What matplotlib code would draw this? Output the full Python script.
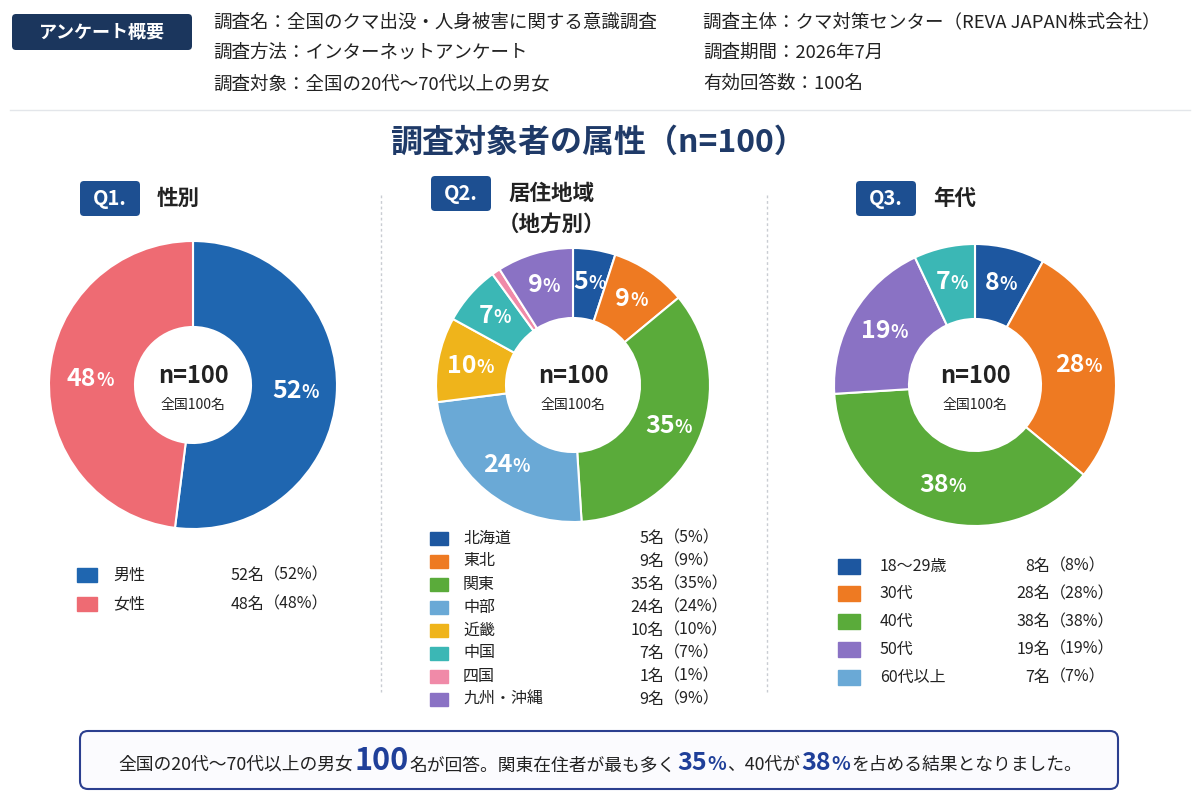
import matplotlib
matplotlib.use("Agg")
import matplotlib.pyplot as plt
import numpy as np
from matplotlib.patches import FancyBboxPatch, Rectangle
from matplotlib.offsetbox import TextArea, HPacker, AnnotationBbox

plt.rcParams["font.family"] = ["Noto Sans CJK JP", "DejaVu Sans"]

# ---- data ----
survey_left = [
    "調査名：全国のクマ出没・人身被害に関する意識調査",
    "調査方法：インターネットアンケート",
    "調査対象：全国の20代〜70代以上の男女",
]
survey_right = [
    "調査主体：クマ対策センター（REVA JAPAN株式会社）",
    "調査期間：2026年7月",
    "有効回答数：100名",
]

gender_labels = ["男性", "女性"]
gender_counts = [52, 48]
gender_colors = ["#1f66b0", "#ee6b73"]

region_labels = ["北海道", "東北", "関東", "中部", "近畿", "中国", "四国", "九州・沖縄"]
region_counts = [5, 9, 35, 24, 10, 7, 1, 9]
region_colors = ["#1d57a0", "#ee7a22", "#5aab3a", "#6aa9d6", "#efb41b",
                 "#3bb7b5", "#f08aa8", "#8a72c4"]

age_labels = ["18〜29歳", "30代", "40代", "50代", "60代以上"]
age_counts = [8, 28, 38, 19, 7]
age_colors = ["#1d57a0", "#ee7a22", "#5aab3a", "#8a72c4", "#3bb7b5"]
age_legend_colors = ["#1d57a0", "#ee7a22", "#5aab3a", "#8a72c4", "#6aa9d6"]

NAVY = "#1b365d"
QBLUE = "#1d4f91"
TEXT = "#222222"
H = 800


def Y(y):
    return H - y


fig = plt.figure(figsize=(12, 8), dpi=100)
ax = fig.add_axes([0, 0, 1, 1])


def pack(parts, sep=0.5):
    # parts: (text, size, weight, color) side by side on one baseline
    areas = [TextArea(s, textprops=dict(fontsize=fs, fontweight=fw, color=c))
             for s, fs, fw, c in parts]
    return HPacker(children=areas, align="baseline", pad=0, sep=sep)


def place(box, x, y):
    ax.add_artist(AnnotationBbox(box, (x, y), xycoords="data", frameon=False,
                                 box_alignment=(0.5, 0.5), pad=0))


def donut(cx, cy, r_out, r_in, counts, colors, lw=1.5):
    total = sum(counts)
    wedges, _ = ax.pie(counts, colors=colors, radius=r_out, center=(cx, Y(cy)),
                       startangle=90, counterclock=False,
                       wedgeprops=dict(width=r_out - r_in, edgecolor="white",
                                       linewidth=lw))
    rm = (r_out + r_in) / 2 + 2
    for w, c in zip(wedges, counts):
        pct = round(100 * c / total)
        if pct < 3:
            continue
        a = np.deg2rad((w.theta1 + w.theta2) / 2)
        place(pack([(str(pct), 18, "bold", "white"), ("%", 13, "bold", "white")], 0),
              cx + rm * np.cos(a), Y(cy) + rm * np.sin(a))
    ax.text(cx, Y(cy) + 9, "n=100", ha="center", va="center", fontsize=17,
            fontweight="bold", color=TEXT)
    ax.text(cx, Y(cy) - 20, "全国100名", ha="center", va="center",
            fontsize=10, color=TEXT)


def legend(x_sq, x_lab, x_num, y0, dy, labels, counts, colors, sq_w, sq_h):
    total = sum(counts)
    for i, (lab, c, col) in enumerate(zip(labels, counts, colors)):
        y = Y(y0 + i * dy)
        ax.add_patch(Rectangle((x_sq, y - sq_h / 2), sq_w, sq_h, color=col))
        ax.text(x_lab, y, lab, ha="left", va="center", fontsize=11.5, color=TEXT)
        ax.text(x_num, y, f"{c}名", ha="right", va="center", fontsize=11.5,
                color=TEXT)
        ax.text(x_num, y, f"（{round(100 * c / total)}%）", ha="left",
                va="center", fontsize=11.5, color=TEXT)


def qbox(x, y, label, title_lines, tx):
    ax.add_patch(FancyBboxPatch((x, Y(y + 35)), 60, 35,
                                boxstyle="round,pad=0,rounding_size=4",
                                facecolor=QBLUE, edgecolor="none"))
    ax.text(x + 30, Y(y + 17.5), label, ha="center", va="center",
            color="white", fontsize=14.5, fontweight="bold")
    for i, (t, dx) in enumerate(title_lines):
        ax.text(tx + dx, Y(y + 17 + 31 * i), t, ha="left", va="center",
                fontsize=15.5, fontweight="bold", color=TEXT)


# ---- header ----
ax.add_patch(FancyBboxPatch((12, Y(50)), 180, 36,
                            boxstyle="round,pad=0,rounding_size=4",
                            facecolor=NAVY, edgecolor="none"))
ax.text(102, Y(32), "アンケート概要", ha="center", va="center", color="white",
        fontsize=13, fontweight="bold")
for i, t in enumerate(survey_left):
    ax.text(213, Y(22 + 31 * i), t, ha="left", va="center", fontsize=13.3,
            color=TEXT)
for i, t in enumerate(survey_right):
    ax.text(703, Y(22 + 31 * i), t, ha="left", va="center", fontsize=13.3,
            color=TEXT)
ax.plot([10, 1190], [Y(110), Y(110)], color="#e3e6ea", lw=1)

ax.text(598, Y(143), "調査対象者の属性（n=100）", ha="center", va="center",
        fontsize=23, fontweight="bold", color="#1f3a68")

# separators
for x in (381, 767):
    ax.plot([x, x], [Y(195), Y(692)], color="#c9ccd2", lw=1, ls=(0, (2, 2)))

# ---- Q1 ----
qbox(80, 181, "Q1.", [("性別", 0)], 157)
donut(193, 385, 144, 58, gender_counts, gender_colors)
legend(77, 113, 264, 575, 29, gender_labels, gender_counts, gender_colors, 20, 14)

# ---- Q2 ----
qbox(431, 176, "Q2.", [("居住地域", 0), ("（地方別）", -10)], 508)
donut(573, 385, 137, 67, region_counts, region_colors)
legend(430, 463, 664, 538, 23, region_labels, region_counts, region_colors, 18, 13)

# ---- Q3 ----
qbox(856, 181, "Q3.", [("年代", 0)], 933)
donut(975, 385, 141, 66, age_counts, age_colors)
legend(838, 880, 1050, 566, 27.8, age_labels, age_counts, age_legend_colors, 22, 15)

# ---- summary box ----
ax.add_patch(FancyBboxPatch((80, Y(789)), 1038, 58,
                            boxstyle="round,pad=0,rounding_size=8",
                            facecolor="#fbfbfe", edgecolor="#2b3f8f", lw=1.5))
hl = "#1f3f99"
summary = HPacker(children=[
    pack([("全国の20代〜70代以上の男女", 12.8, "normal", TEXT)]),
    pack([("100", 22, "bold", hl)]),
    pack([("名が回答。関東在住者が最も多く", 12.8, "normal", TEXT)]),
    pack([("35", 18, "bold", hl), ("%", 14, "bold", hl)], 0),
    pack([("、40代が", 12.8, "normal", TEXT)]),
    pack([("38", 18, "bold", hl), ("%", 14, "bold", hl)], 0),
    pack([("を占める結果となりました。", 12.8, "normal", TEXT)]),
], align="baseline", pad=0, sep=1)
place(summary, 600, Y(761))

ax.set_xlim(0, 1200)
ax.set_ylim(0, 800)
ax.set_aspect("auto")
ax.axis("off")

fig.savefig("out.png", dpi=100, facecolor="white")
